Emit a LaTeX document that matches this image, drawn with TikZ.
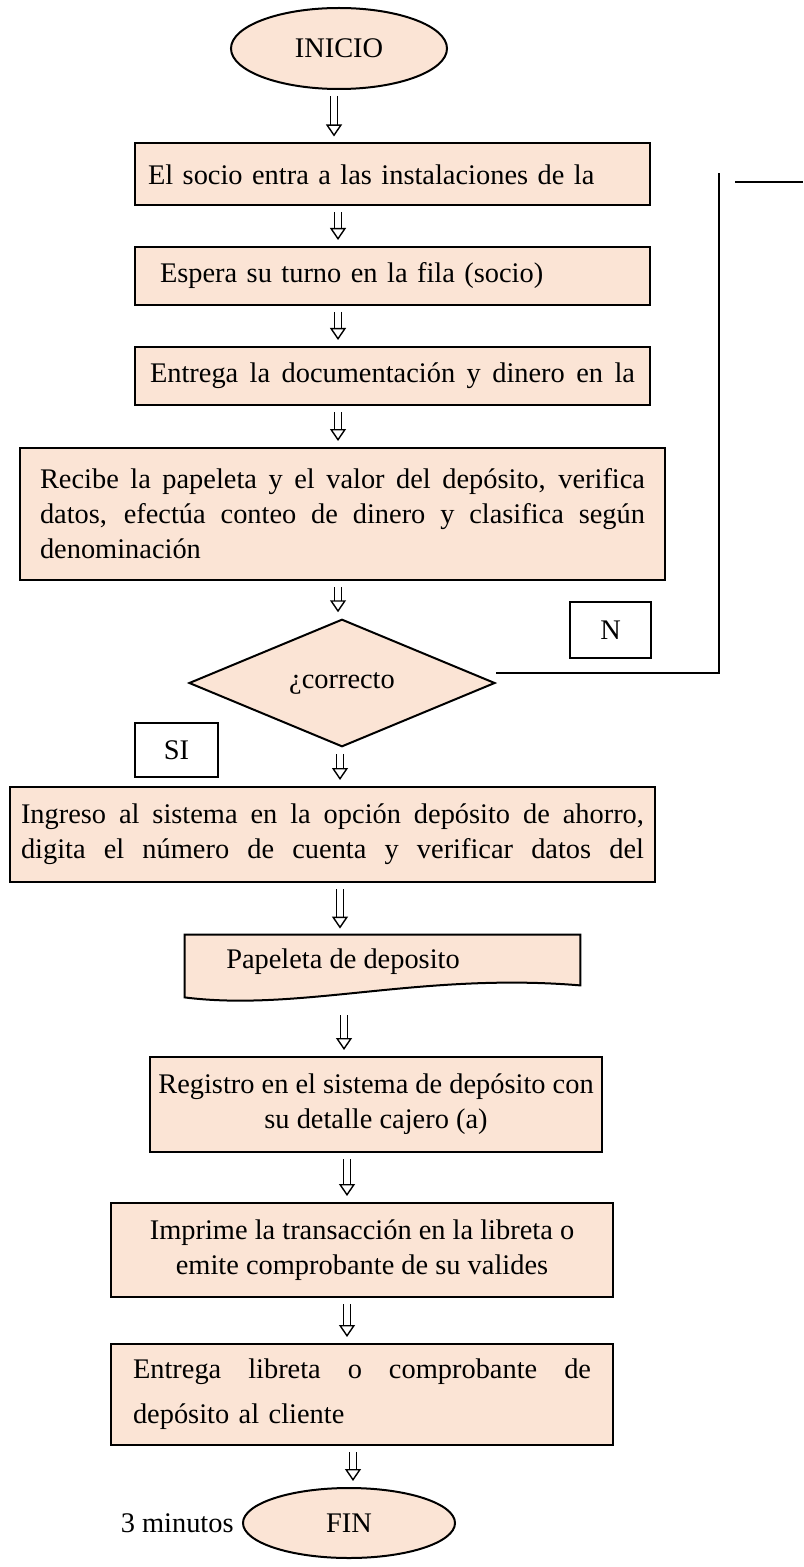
\documentclass[tikz,border=0pt]{standalone}
\usepackage{fontspec}
\setmainfont{Liberation Serif}
\usepackage{xcolor}
\definecolor{flujofill}{HTML}{FBE4D5}
\usetikzlibrary{shapes.geometric,arrows.meta}
\newcommand{\jline}[2]{\leavevmode\hbox to #1{\spaceskip=0.25em plus 1fil\relax #2}}

\begin{document}
\begin{tikzpicture}[x=0.5pt,y=-0.5pt,
  every node/.style={font=\fontsize{14.2}{17.5}\selectfont},
  proc/.style={draw,line width=1pt,fill=flujofill,inner ysep=0pt,align=left},
  term/.style={ellipse,draw,line width=1pt,fill=flujofill,inner sep=0pt},
  lbl/.style={draw,line width=0.8pt,fill=white,inner sep=0pt},
  flecha/.style={double,double distance=3pt,line width=0.7pt,shorten <=3pt,shorten >=3pt,
    -{Triangle[open,length=6pt,width=8pt]}}]

\useasboundingbox (0,0) rectangle (803,1567);

% columnas de las flechas
\coordinate (col1) at (334,0);
\coordinate (col2) at (338,0);
\coordinate (col3) at (340,0);
\coordinate (col4) at (344,0);
\coordinate (col5) at (347,0);
\coordinate (col6) at (353,0);

\node[term,minimum width=108pt,minimum height=40.5pt] (inicio) at (339,48.5) {INICIO};

\node[proc,minimum width=257.5pt,minimum height=31pt,inner xsep=6.5pt,text width=244.5pt] (b1) at (392.5,174.5)
  {El socio entra a las instalaciones de la};
\node[proc,minimum width=257.5pt,minimum height=29pt,inner xsep=12.5pt,text width=232.5pt] (b2) at (392.5,276)
  {Espera su turno en la fila (socio)};
\node[proc,minimum width=257.5pt,minimum height=29pt,inner xsep=7.5pt,text width=242.5pt] (b3) at (392.5,376)
  {\jline{242.5pt}{Entrega la documentación y dinero en la}};
\node[proc,minimum width=322.5pt,minimum height=66pt,inner xsep=10pt,text width=302.5pt] (b4) at (342.5,514)
  {\jline{302.5pt}{Recibe la papeleta y el valor del depósito, verifica}\\
   \jline{302.5pt}{datos, efectúa conteo de dinero y clasifica según}\\
   denominación};

\node[diamond,draw,line width=1pt,fill=flujofill,inner sep=0pt,minimum width=153pt,minimum height=55pt] (dia) at (342,683)
  {\raisebox{-2pt}{¿correcto}};
\node[lbl,minimum width=40.5pt,minimum height=28pt] (nbox) at (610.5,630) {N};
\node[lbl,minimum width=41.5pt,minimum height=27pt] (sibox) at (176.5,750) {SI};

\node[proc,minimum width=322.5pt,minimum height=47.5pt,inner xsep=5.5pt,text width=311.5pt] (b5) at (332.5,834.5)
  {\jline{311.5pt}{Ingreso al sistema en la opción depósito de ahorro,}\\
   \jline{311.5pt}{digita el número de cuenta y verificar datos del}};

% papeleta (documento)
\node[inner sep=0pt,minimum width=197.5pt,minimum height=31pt] (papel) at (382.5,966) {};
\draw[line width=1pt,fill=flujofill] (papel.south west) -- (papel.north west) -- (papel.north east)
  -- ([yshift=6pt]papel.south east) .. controls (420,972) and (300,1012) .. (papel.south west) -- cycle;
\node (paptxt) at (343,962) {Papeleta de deposito};

\node[proc,minimum width=226pt,minimum height=47.5pt,inner xsep=2pt,align=center] (b6) at (376,1104.5)
  {Registro en el sistema de depósito con\\su detalle cajero (a)};
\node[proc,minimum width=251pt,minimum height=47pt,align=center] (b7) at (362,1250)
  {Imprime la transacción en la libreta o\\emite comprobante de su valides};
\node[proc,minimum width=251pt,minimum height=50.5pt,inner xsep=11pt,text width=229pt] (b8) at (362,1394.5)
  {\jline{229pt}{Entrega libreta o comprobante de}\\[5pt]
   depósito al cliente};

\node[term,minimum width=106pt,minimum height=35pt] (fin) at (349,1523) {FIN};
\node[inner sep=0pt,anchor=east] (tiempo) at ([xshift=-4pt]fin.west) {3 minutos};

% flechas
\draw[flecha] (inicio.south -| col1) -- (b1.north -| col1);
\draw[flecha] (b1.south -| col2) -- (b2.north -| col2);
\draw[flecha] (b2.south -| col2) -- (b3.north -| col2);
\draw[flecha] (b3.south -| col2) -- (b4.north -| col2);
\draw[flecha] (b4.south -| col2) -- (dia.north -| col2);
\draw[flecha] (dia.south -| col3) -- (b5.north -| col3);
\draw[flecha] (b5.south -| col3) -- (papel.north -| col3);
\draw[flecha,shorten <=9pt] (papel.south -| col4) -- (b6.north -| col4);
\draw[flecha] (b6.south -| col5) -- (b7.north -| col5);
\draw[flecha] (b7.south -| col5) -- (b8.north -| col5);
\draw[flecha] (b8.south -| col6) -- (fin.north -| col6);

% retorno
\coordinate (ltop) at (719,173);
\draw[line width=1.2pt] ([yshift=5pt]dia.east) -| (ltop);
\coordinate (lcut1) at (735,182);
\coordinate (lcut2) at (803,182);
\draw[line width=1pt] (lcut1) -- (lcut2);
\end{tikzpicture}
\end{document}
